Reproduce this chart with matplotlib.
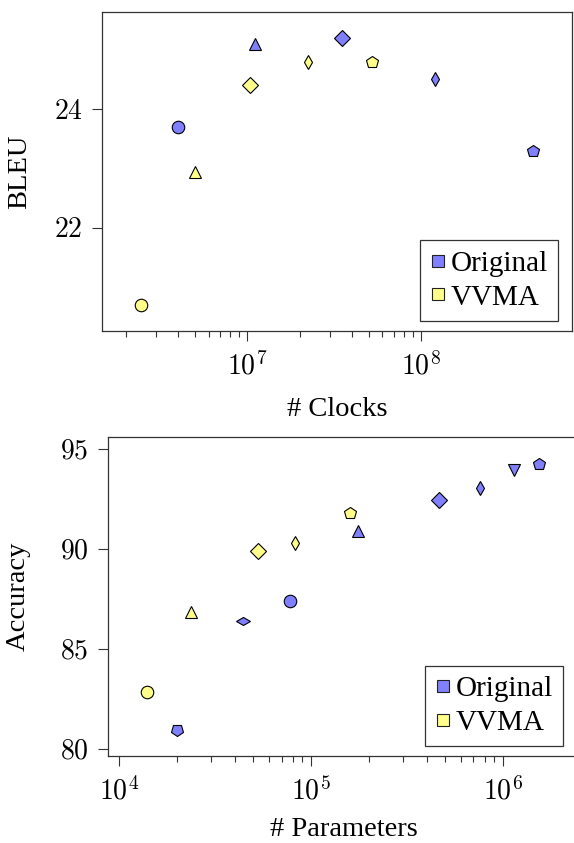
import numpy as np
import matplotlib
matplotlib.use("Agg")
import matplotlib.pyplot as plt
from matplotlib.markers import MarkerStyle
from matplotlib.transforms import Affine2D
from matplotlib.lines import Line2D
from matplotlib.ticker import FuncFormatter, FixedLocator, NullFormatter

plt.rcParams['font.family'] = ['Liberation Serif', 'DejaVu Serif']
plt.rcParams['mathtext.fontset'] = 'cm'

# ---------------- data ----------------
series_names = ["Original", "VVMA"]
series_colors = {"Original": "#8080ff", "VVMA": "#ffff8a"}

# Top chart: BLEU vs # Clocks
top_series = ["VVMA", "Original", "VVMA", "VVMA", "Original",
              "VVMA", "Original", "VVMA", "Original", "Original"]
top_markers = ["circle", "circle", "triangle", "bigdiamond", "triangle",
               "thindiamond", "bigdiamond", "pentagon", "thindiamond", "pentagon"]
top_clocks = [2.45e6, 4.0e6, 5.0e6, 1.04e7, 1.1e7, 2.25e7, 3.5e7, 5.25e7, 1.2e8, 4.4e8]
top_bleu = [20.7, 23.7, 22.93, 24.4, 25.1, 24.8, 25.2, 24.8, 24.5, 23.3]

# Bottom chart: Accuracy vs # Parameters
bot_series = ["VVMA", "Original", "VVMA", "Original", "VVMA", "Original",
              "VVMA", "VVMA", "Original", "Original", "Original", "Original", "Original"]
bot_markers = ["circle", "invpentagon", "triangle", "widediamond", "bigdiamond", "circle",
               "thindiamond", "pentagon", "triangle", "bigdiamond", "thindiamond",
               "invtriangle", "pentagon"]
bot_params = [1.39e4, 2.0e4, 2.37e4, 4.4e4, 5.3e4, 7.75e4,
              8.25e4, 1.6e5, 1.75e5, 4.65e5, 7.55e5, 1.14e6, 1.53e6]
bot_acc = [82.83, 80.97, 86.86, 86.41, 89.9, 87.4,
           90.31, 91.78, 90.91, 92.45, 93.03, 93.92, 94.25]

top_yticks = [22, 24]
top_xticks = [1e7, 1e8]
top_minor_decades = [1e6, 1e7]
bot_yticks = [80, 85, 90, 95]
bot_xticks = [1e4, 1e5, 1e6]
bot_minor_decades = [1e4, 1e5]

# ---------------- styles ----------------
rot90 = Affine2D().rotate_deg(90)
rot180 = Affine2D().rotate_deg(180)
marker_styles = {
    "circle": (MarkerStyle('o'), 9.0),
    "triangle": (MarkerStyle('^'), 8.0),
    "invtriangle": (MarkerStyle('v'), 8.0),
    "bigdiamond": (MarkerStyle('D'), 8.6),
    "thindiamond": (MarkerStyle('d'), 7.1),
    "widediamond": (MarkerStyle('d', transform=rot90), 7.1),
    "pentagon": (MarkerStyle('p'), 8.9),
    "invpentagon": (MarkerStyle('p', transform=rot180), 8.9),
}

W, H = 574, 843
fig = plt.figure(figsize=(W / 100, H / 100), dpi=100)

def px_axes(left, top, right, bottom):
    return fig.add_axes([left / W, 1 - bottom / H, (right - left) / W, (bottom - top) / H])

ax1 = px_axes(102, 12, 572, 331)
ax2 = px_axes(108, 437, 580, 756)

def logfmt(v, pos):
    e = int(round(np.log10(v)))
    return r'$10^{%d}$' % e

def numfmt(v, pos):
    return r'$%g$' % v

def style_axes(ax, xs, ys, sers, mks, xlim, ylim, yticks, xticks, minor_decades,
               xlabel, ylabel, ylab_x, leg_anchor, xlabelpad):
    for x, y, s, m in zip(xs, ys, sers, mks):
        mk, ms = marker_styles[m]
        ax.plot([x], [y], linestyle='none', marker=mk, markersize=ms,
                markerfacecolor=series_colors[s], markeredgecolor='black',
                markeredgewidth=0.8, zorder=3)
    ax.set_xscale('log')
    ax.set_xlim(*xlim)
    ax.set_ylim(*ylim)
    ax.yaxis.set_major_locator(FixedLocator(yticks))
    ax.yaxis.set_major_formatter(FuncFormatter(numfmt))
    ax.xaxis.set_major_locator(FixedLocator(xticks))
    minors = [d * k for d in minor_decades for k in range(2, 10)]
    ax.xaxis.set_minor_locator(FixedLocator(minors))
    ax.xaxis.set_major_formatter(FuncFormatter(logfmt))
    ax.xaxis.set_minor_formatter(NullFormatter())
    ax.tick_params(axis='both', which='major', direction='out', length=7, width=0.8,
                   labelsize=20, color='#333333')
    ax.tick_params(axis='x', which='major', pad=8)
    ax.tick_params(axis='y', which='major', pad=7)
    ax.tick_params(axis='x', which='minor', direction='out', length=4.5, width=0.8, color='#333333')
    for sp in ax.spines.values():
        sp.set_color('#333333')
        sp.set_linewidth(0.9)
    ax.set_xlabel(xlabel, fontsize=20.5, labelpad=xlabelpad)
    ax.set_ylabel(ylabel, fontsize=20.5)
    ax.yaxis.set_label_coords(ylab_x, 0.5)
    handles = [Line2D([], [], linestyle='none', marker='s', markersize=9,
                      markerfacecolor=series_colors[n], markeredgecolor='#222222',
                      markeredgewidth=0.8) for n in series_names]
    leg = ax.legend(handles, series_names, loc='lower right', bbox_to_anchor=leg_anchor,
                    fontsize=21, frameon=True, fancybox=False, framealpha=1,
                    edgecolor='#333333', handlelength=0.55, handletextpad=0.15,
                    borderpad=0.35, labelspacing=0.25, borderaxespad=0.0)
    leg.get_frame().set_linewidth(0.9)

style_axes(ax1, top_clocks, top_bleu, top_series, top_markers,
           (10 ** 6.1635, 10 ** 8.869), (20.257, 25.636), top_yticks, top_xticks,
           top_minor_decades, "# Clocks", "BLEU", -0.149, (0.970, 0.032), 12)
style_axes(ax2, bot_params, bot_acc, bot_series, bot_markers,
           (10 ** 3.941, 10 ** 6.4), (79.65, 95.58), bot_yticks, bot_xticks,
           bot_minor_decades, "# Parameters", "Accuracy", -0.163, (0.964, 0.031), 8)

fig.savefig("out.png", dpi=100)
